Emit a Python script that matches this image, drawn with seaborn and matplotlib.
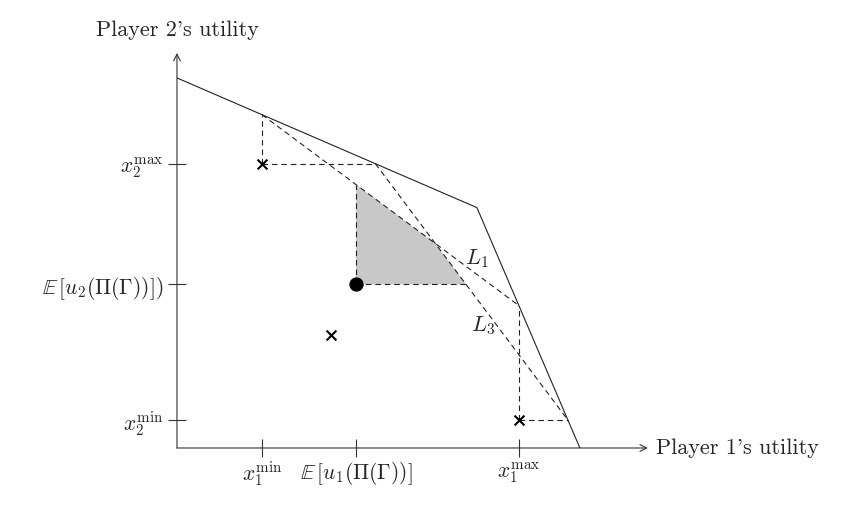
import numpy as np
import matplotlib
matplotlib.use('Agg')
import matplotlib.pyplot as plt
import seaborn as sns

# Pareto frontier of the feasible utility set (player 1, player 2)
frontier_x = [0.0, 30.0, 40.3]
frontier_y = [37.1, 24.1, 0.0]

# tick positions
x1_min, x1_max = 8.5, 34.2
x2_min, x2_max = 2.8, 28.5
eu1, eu2 = 17.9, 16.4

# lone cross (disagreement point)
threat_x = [15.4]
threat_y = [11.3]

x_labels = [r'$x_1^{\mathrm{min}}$', r'$\mathbb{E}\,[u_1(\Pi(\Gamma))]$', r'$x_1^{\mathrm{max}}$']
y_labels = [r'$x_2^{\mathrm{min}}$', r'$\mathbb{E}\,[u_2(\Pi(\Gamma))])$', r'$x_2^{\mathrm{max}}$']

sns.set_theme(style='white')
plt.rcParams['font.family'] = ['cmr10', 'DejaVu Serif']
plt.rcParams['mathtext.fontset'] = 'cm'
plt.rcParams['axes.unicode_minus'] = False


def f_y(x):
    return np.interp(x, frontier_x, frontier_y)


def f_x(y):
    return np.interp(y, frontier_y[::-1], frontier_x[::-1])


# points where the dashed guides meet the frontier
A = (x1_min, f_y(x1_min))
B = (x1_max, f_y(x1_max))
C = (f_x(x2_max), x2_max)
D = (f_x(x2_min), x2_min)

s1 = (B[1] - A[1]) / (B[0] - A[0])
s3 = (D[1] - C[1]) / (D[0] - C[0])
ix = (C[1] - A[1] + s1 * A[0] - s3 * C[0]) / (s1 - s3)
iy = A[1] + s1 * (ix - A[0])

fig = plt.figure(figsize=(8.5, 5.11), dpi=100)
ax = fig.add_axes([0.2082, 0.1233, 0.554, 0.773])
xmax, ymax = 47.1, 39.6
ax.set_xlim(0, xmax)
ax.set_ylim(0, ymax)
for sp in ax.spines.values():
    sp.set_visible(False)

ax.annotate('', xy=(xmax, 0), xytext=(0, 0), annotation_clip=False,
            arrowprops=dict(arrowstyle='->', lw=0.8, color='#333333', shrinkA=0, shrinkB=0))
ax.annotate('', xy=(0, ymax), xytext=(0, 0), annotation_clip=False,
            arrowprops=dict(arrowstyle='->', lw=0.8, color='#333333', shrinkA=0, shrinkB=0))

# shaded region
py_top = A[1] + s1 * (eu1 - A[0])
px_right = C[0] + (eu2 - C[1]) / s3
ax.fill([eu1, eu1, ix, px_right], [eu2, py_top, iy, eu2], color='#c8c8c8', lw=0, zorder=1)

sns.lineplot(x=frontier_x, y=frontier_y, sort=False, color='#222222', lw=0.8, ax=ax, zorder=3)

dash = dict(color='#222222', lw=0.8, dashes=(5, 3.5), zorder=2)
ax.plot([x1_min, x1_min], [x2_max, A[1]], **dash)
ax.plot([x1_min, C[0]], [x2_max, x2_max], **dash)
ax.plot([x1_max, x1_max], [x2_min, B[1]], **dash)
ax.plot([x1_max, D[0]], [x2_min, x2_min], **dash)
ax.plot([A[0], B[0]], [A[1], B[1]], **dash)
ax.plot([C[0], D[0]], [C[1], D[1]], **dash)
ax.plot([eu1, eu1], [eu2, py_top], **dash)
ax.plot([eu1, px_right], [eu2, eu2], **dash)

sns.scatterplot(x=[x1_min, x1_max] + threat_x, y=[x2_max, x2_min] + threat_y,
                marker='x', s=50, color='black', linewidth=1.5, ax=ax, zorder=4)
sns.scatterplot(x=[eu1], y=[eu2], marker='o', s=90, color='black', edgecolor='black', ax=ax, zorder=4)

ax.text(30.0, 19.0, r'$L_1$', fontsize=16, ha='center', va='center')
ax.text(30.6, 12.3, r'$L_3$', fontsize=16, ha='center', va='center')

ax.set_xticks([x1_min, eu1, x1_max], x_labels)
ax.set_yticks([x2_min, eu2, x2_max], y_labels)
ax.tick_params(direction='inout', length=13, width=0.8, color='#333333',
               labelsize=15.5, pad=2, left=True, bottom=True)
ax.tick_params(axis='y', pad=3)

ax.text(0, ymax + 1.3, "Player 2's utility", fontsize=16, ha='center', va='bottom')
ax.text(xmax + 0.8, 0, "Player 1's utility", fontsize=16, ha='left', va='center')

fig.savefig('out.png', dpi=100)
